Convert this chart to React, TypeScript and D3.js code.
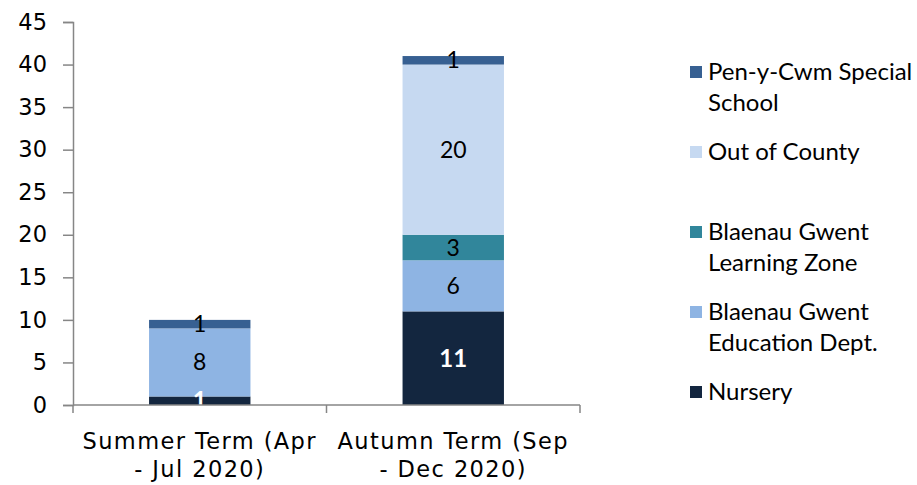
import React, { useRef, useEffect } from "react";
import * as d3 from "d3";

const categories = ["Summer Term (Apr - Jul 2020)", "Autumn Term (Sep - Dec 2020)"];
const categoryLines = [
  ["Summer Term (Apr", "- Jul 2020)"],
  ["Autumn Term (Sep", "- Dec 2020)"],
];
// stacked bottom to top
const seriesNames = [
  "Nursery",
  "Blaenau Gwent Education Dept.",
  "Blaenau Gwent Learning Zone",
  "Out of County",
  "Pen-y-Cwm Special School",
];
const nursery = [1, 11];
const educationDept = [8, 6];
const learningZone = [0, 3];
const outOfCounty = [0, 20];
const penYCwm = [1, 1];
const colors = ["#13263f", "#8eb4e3", "#31869b", "#c6d9f1", "#376092"];
const labelColors = ["#ffffff", "#000000", "#000000", "#000000", "#000000"];
const legendLines = [
  ["Pen-y-Cwm Special", "School"],
  ["Out of County"],
  ["Blaenau Gwent", "Learning Zone"],
  ["Blaenau Gwent", "Education Dept."],
  ["Nursery"],
];
const yTicks = [0, 5, 10, 15, 20, 25, 30, 35, 40, 45];

const axisFont = "'DejaVu Sans', sans-serif";
const labelFont = "Lato, 'Open Sans', sans-serif";

export default function App() {
  const ref = useRef<SVGSVGElement>(null);

  useEffect(() => {
    const svg = d3.select(ref.current);
    svg.selectAll("*").remove();

    const left = 73;
    const right = 580;
    const top = 22;
    const bottom = 405;

    const data = categories.map((c, i) => ({
      cat: c,
      s0: nursery[i],
      s1: educationDept[i],
      s2: learningZone[i],
      s3: outOfCounty[i],
      s4: penYCwm[i],
    }));
    const keys = ["s0", "s1", "s2", "s3", "s4"];
    const stacked = d3.stack<any>().keys(keys)(data);

    const x = d3.scaleBand().domain(categories).range([left, right]).paddingInner(0.6).paddingOuter(0.3);
    const xEdge = d3.scaleBand().domain(categories).range([left, right]);
    const y = d3.scaleLinear().domain([0, 45]).range([bottom, top]);

    // bars
    stacked.forEach((layer, si) => {
      const g = svg.append("g");
      g.selectAll("rect")
        .data(layer.filter((d) => d[1] - d[0] > 0))
        .enter()
        .append("rect")
        .attr("x", (d) => x(d.data.cat)!)
        .attr("y", (d) => y(d[1]))
        .attr("width", x.bandwidth())
        .attr("height", (d) => y(d[0]) - y(d[1]))
        .attr("fill", colors[si]);
    });

    // data labels
    stacked.forEach((layer, si) => {
      svg.append("g")
        .selectAll("text")
        .data(layer.filter((d) => d[1] - d[0] > 0))
        .enter()
        .append("text")
        .attr("x", (d) => x(d.data.cat)! + x.bandwidth() / 2)
        .attr("y", (d) => y((d[0] + d[1]) / 2))
        .attr("dy", "0.35em")
        .attr("text-anchor", "middle")
        .attr("font-family", labelFont)
        .attr("font-size", si === 0 ? 24 : 23)
        .attr("font-weight", si === 0 ? "bold" : "normal")
        .attr("fill", labelColors[si])
        .text((d) => d[1] - d[0]);
    });

    // y axis
    const yAxis = svg.append("g")
      .attr("transform", `translate(${left},0)`)
      .call(d3.axisLeft(y).tickValues(yTicks).tickSize(10).tickPadding(16));
    yAxis.select(".domain").attr("stroke", "#868686").attr("stroke-width", 1.5);
    yAxis.selectAll(".tick line").attr("stroke", "#868686").attr("stroke-width", 1.5);
    yAxis.selectAll(".tick text")
      .attr("font-family", axisFont)
      .attr("font-size", 22.5)
      .attr("fill", "#000");

    // x axis
    const xAxis = svg.append("g").attr("transform", `translate(0,${bottom})`);
    xAxis.append("line")
      .attr("x1", left).attr("x2", right)
      .attr("stroke", "#868686").attr("stroke-width", 1.5);
    const edges = [...categories.map((c) => xEdge(c)!), right];
    xAxis.selectAll(".edge")
      .data(edges)
      .enter()
      .append("line")
      .attr("x1", (d) => d).attr("x2", (d) => d)
      .attr("y1", 0).attr("y2", 8)
      .attr("stroke", "#868686").attr("stroke-width", 1.5);

    xAxis.selectAll(".cat")
      .data(categories)
      .enter()
      .append("text")
      .attr("text-anchor", "middle")
      .attr("font-family", axisFont)
      .attr("font-size", 22.5)
      .attr("letter-spacing", 1.4)
      .attr("fill", "#000")
      .each(function (c, i) {
        const t = d3.select(this);
        categoryLines[i].forEach((line, li) => {
          t.append("tspan")
            .attr("x", x(c)! + x.bandwidth() / 2)
            .attr("y", 44 + li * 28)
            .text(line);
        });
      });

    // legend
    const legendY = [72, 152, 232, 312, 392];
    const legendColors = colors.slice().reverse();
    const legend = svg.append("g");
    legendLines.forEach((lines, i) => {
      legend.append("rect")
        .attr("x", 690).attr("y", legendY[i] - 6)
        .attr("width", 12).attr("height", 12)
        .attr("fill", legendColors[i]);
      lines.forEach((line, li) => {
        legend.append("text")
          .attr("x", 708)
          .attr("y", legendY[i] + li * 31)
          .attr("dy", "0.35em")
          .attr("font-family", labelFont)
          .attr("font-size", 24)
          .attr("fill", "#000")
          .text(line);
      });
    });
  }, []);

  return (
    <svg
      ref={ref}
      width={917}
      height={485}
      style={{ position: "absolute", left: 0, top: 0, background: "#fff" }}
    />
  );
}
